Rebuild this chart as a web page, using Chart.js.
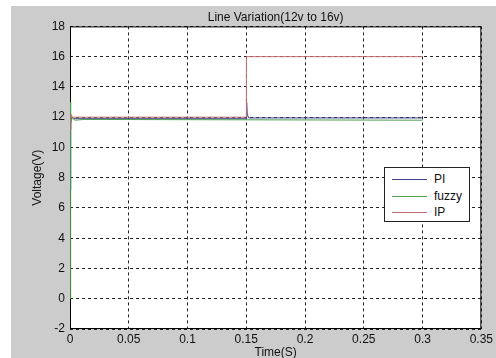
<!DOCTYPE html>
<html>
<head>
<meta charset="utf-8">
<script src="https://cdn.jsdelivr.net/npm/chart.js@4"></script>
<style>
  body { margin: 0; background: #fff; }
  .wrap { position: absolute; left: 11px; top: 6px; width: 485px; height: 352px; background: #cccccc; }
  .legend {
    position: absolute; left: 373px; top: 161px; width: 84px; height: 53px;
    background: #fff; border: 1px solid #222; font: 12px "Liberation Sans", Arial, sans-serif; color: #111;
  }
  .legend .row { position: absolute; left: 7px; height: 16px; line-height: 16px; }
  .legend .sw { position: absolute; left: 0; top: 8px; width: 35px; height: 1px; }
  .legend .lab { position: absolute; left: 42px; top: 0; white-space: nowrap; }
</style>
</head>
<body>
<div class="wrap">
  <canvas id="chart" width="485" height="352"></canvas>
  <div class="legend" id="legend"></div>
</div>
<script>
// series: time (s) and voltage (V)
const piTime = [0, 0.0004, 0.0008, 0.0015, 0.003, 0.15, 0.1503, 0.1508, 0.152, 0.3];
const piVolt = [7.2, 10.3, 11.6, 12.0, 11.9, 11.9, 13.0, 12.2, 11.95, 11.95];

const fuzzyTime = [0, 0.0003, 0.0008, 0.002, 0.004, 0.012, 0.3];
const fuzzyVolt = [0, 13.0, 11.6, 12.0, 11.8, 11.85, 11.8];

const ipTime = [0, 0.0008, 0.002, 0.15, 0.1501, 0.3];
const ipVolt = [11.2, 12.2, 12.0, 12.0, 16.0, 16.0];

const seriesNames = ['PI', 'fuzzy', 'IP'];
const seriesColors = ['#404090', '#4fa04f', '#c07070'];

const xTicks = [0, 0.05, 0.1, 0.15, 0.2, 0.25, 0.3, 0.35];
const yTicks = [-2, 0, 2, 4, 6, 8, 10, 12, 14, 16, 18];

const toPoints = (xs, ys) => xs.map((x, i) => ({ x, y: ys[i] }));

const font = { family: '"Liberation Sans", Arial, sans-serif', size: 12 };

// white axes background + frame (box on), drawn under the lines
const boxPlugin = {
  id: 'box',
  beforeDraw(chart) {
    const { ctx, chartArea: a } = chart;
    ctx.save();
    ctx.fillStyle = '#fff';
    ctx.fillRect(a.left, a.top, a.right - a.left, a.bottom - a.top);
    ctx.restore();
  },
  beforeDatasetsDraw(chart) {
    const { ctx, chartArea: a } = chart;
    ctx.save();
    ctx.strokeStyle = '#000';
    ctx.lineWidth = 1;
    ctx.strokeRect(a.left + 0.5, a.top + 0.5, a.right - a.left - 1, a.bottom - a.top - 1);
    ctx.restore();
  }
};

new Chart(document.getElementById('chart'), {
  type: 'line',
  data: {
    datasets: [
      { label: seriesNames[0], data: toPoints(piTime, piVolt), borderColor: seriesColors[0], order: 2 },
      { label: seriesNames[1], data: toPoints(fuzzyTime, fuzzyVolt), borderColor: seriesColors[1], order: 1 },
      { label: seriesNames[2], data: toPoints(ipTime, ipVolt), borderColor: seriesColors[2], order: 0 }
    ].map(d => Object.assign(d, { borderWidth: 1, pointRadius: 0, tension: 0, fill: false }))
  },
  options: {
    responsive: false,
    animation: false,
    layout: { padding: { left: 0, right: 14, top: 0, bottom: 0 } },
    plugins: {
      legend: { display: false },
      tooltip: { enabled: false },
      title: {
        display: true,
        fullSize: false,
        text: 'Line Variation(12v to 16v)',
        color: '#111',
        font: { family: font.family, size: 12, weight: 'normal' },
        padding: { top: 4, bottom: 2 }
      }
    },
    scales: {
      x: {
        type: 'linear',
        min: 0, max: 0.35,
        afterBuildTicks: s => { s.ticks = xTicks.map(v => ({ value: v })); },
        afterFit: s => { s.height = 29; },
        ticks: { color: '#111', font, padding: 3, maxRotation: 0, callback: v => String(+v.toFixed(2)) },
        grid: { color: '#222', drawTicks: false },
        border: { display: false, dash: [3, 3] },
        title: { display: true, text: 'Time(S)', color: '#111', font, padding: { top: 0, bottom: -2 } }
      },
      y: {
        min: -2, max: 18,
        afterBuildTicks: s => { s.ticks = yTicks.map(v => ({ value: v })); },
        afterFit: s => { s.width = 59; },
        ticks: { color: '#111', font, padding: 5 },
        grid: { color: '#222', drawTicks: false },
        border: { display: false, dash: [3, 3] },
        title: { display: true, text: 'Voltage(V)', color: '#111', font, padding: { top: 19, bottom: 0 } }
      }
    }
  },
  plugins: [boxPlugin]
});

// legend box inside the axes
const legend = document.getElementById('legend');
seriesNames.forEach((name, i) => {
  const row = document.createElement('div');
  row.className = 'row';
  row.style.top = (3 + i * 16.5) + 'px';
  row.innerHTML = '<div class="sw" style="background:' + seriesColors[i] + '"></div><div class="lab">' + name + '</div>';
  legend.appendChild(row);
});
</script>
</body>
</html>
